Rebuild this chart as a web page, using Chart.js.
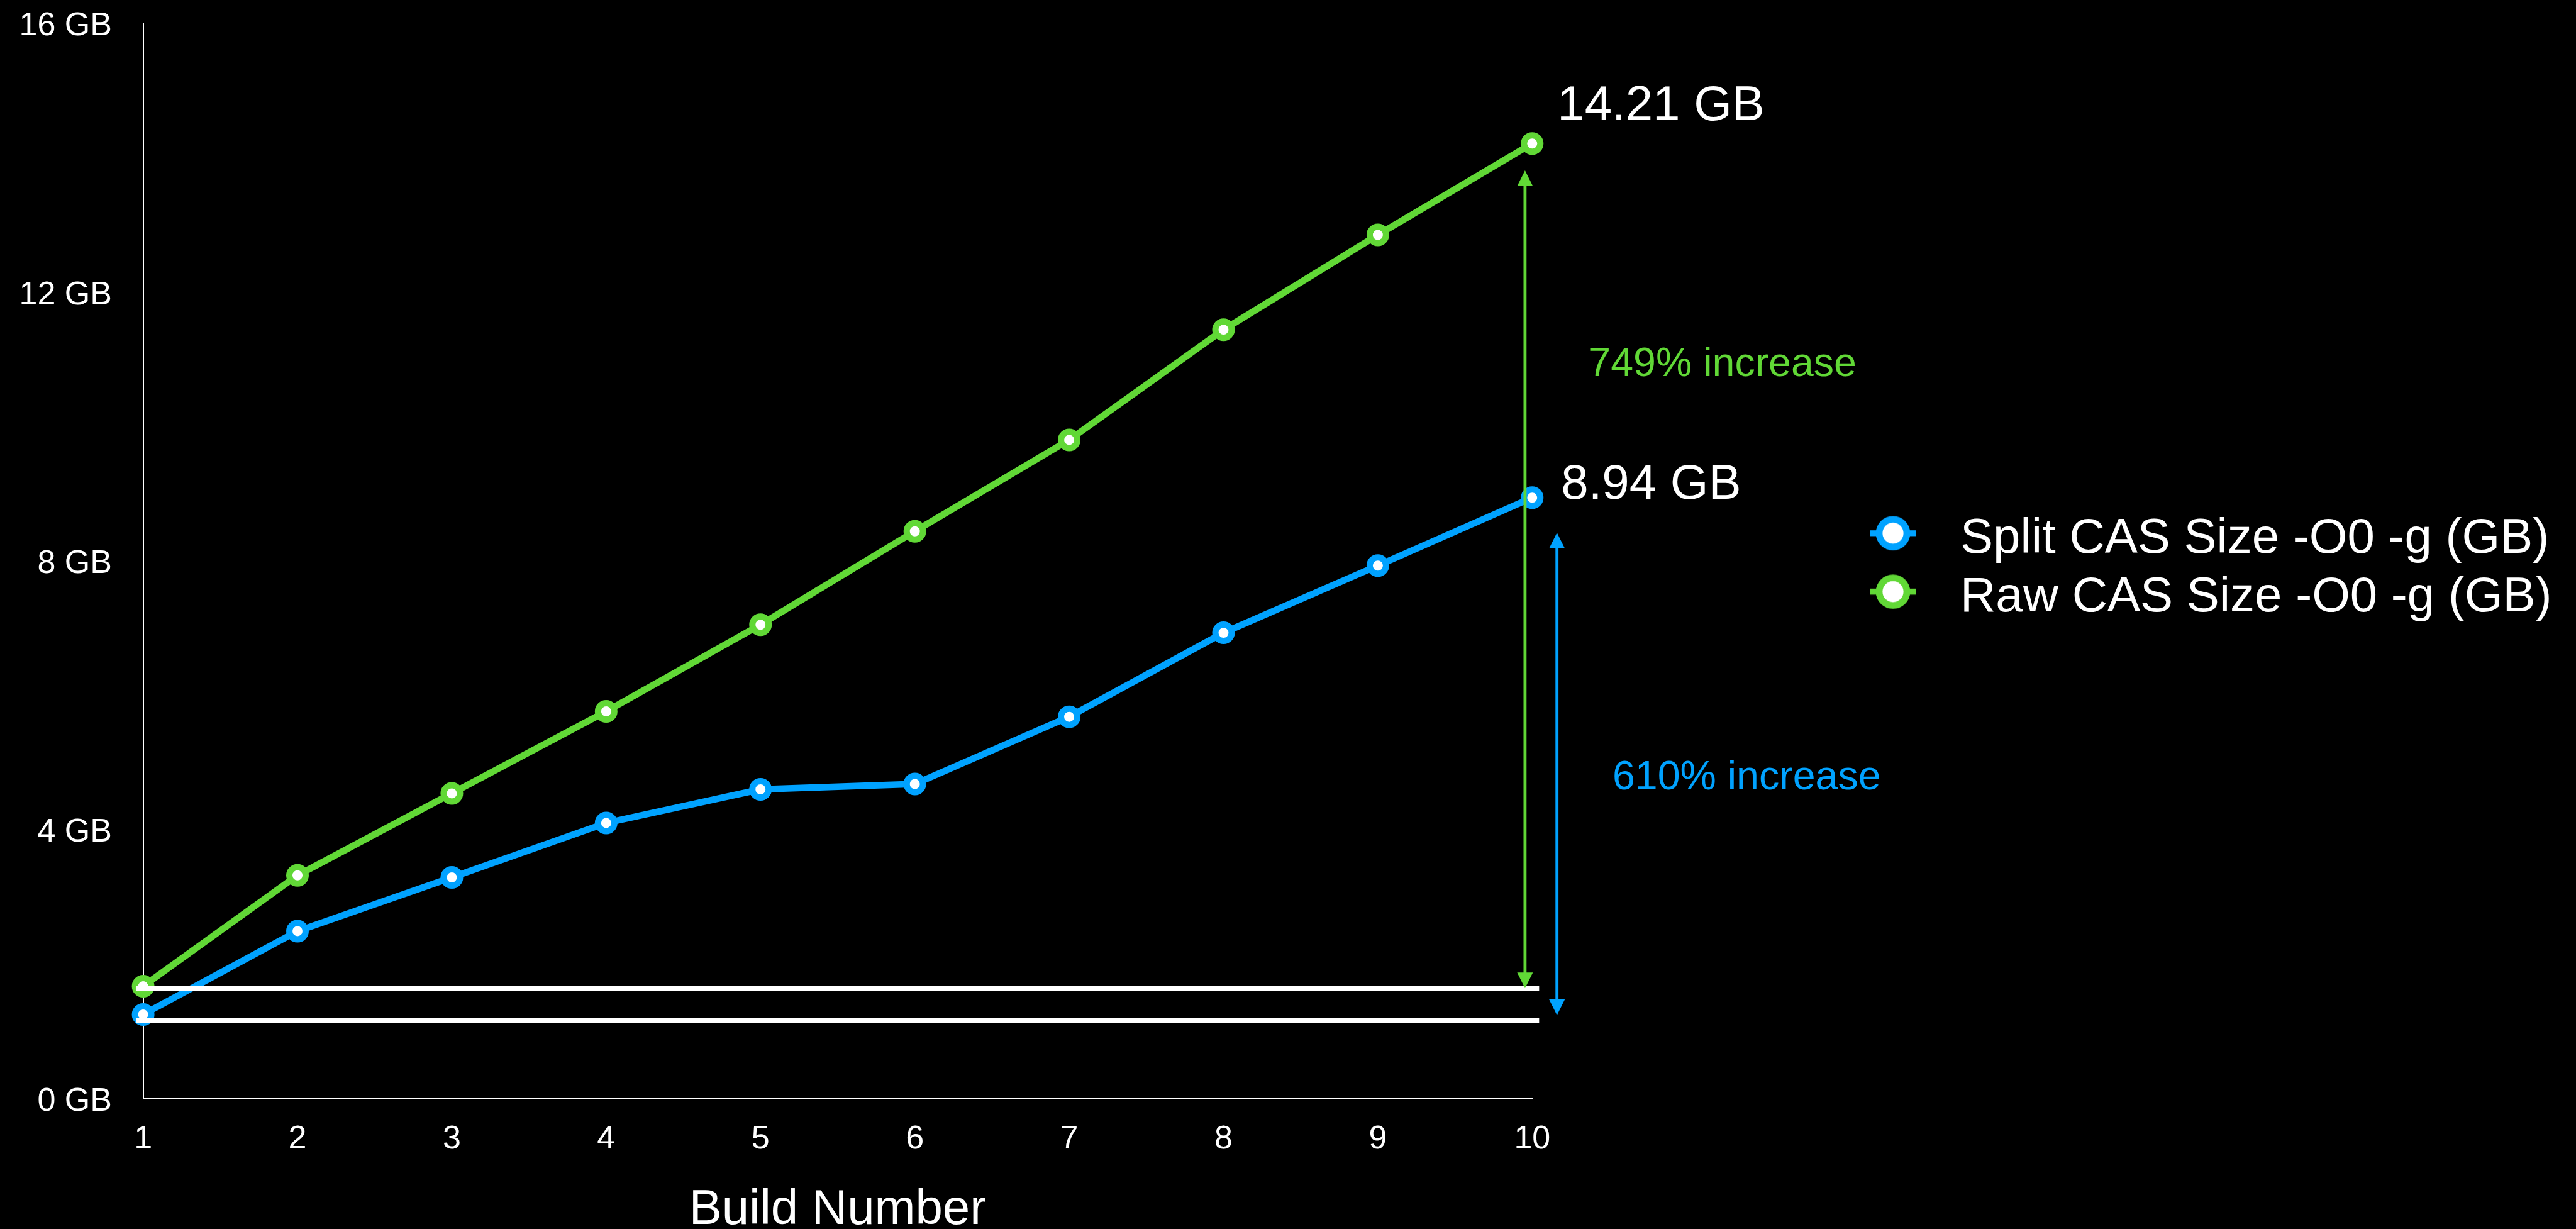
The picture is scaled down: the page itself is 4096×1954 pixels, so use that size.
<!DOCTYPE html>
<html>
<head>
<meta charset="utf-8">
<title>CAS size per build</title>
<script src="https://cdn.jsdelivr.net/npm/chart.js@4.4.1/dist/chart.umd.min.js"></script>
<style>
  html, body { margin: 0; padding: 0; background: #000; }
  canvas { display: block; }
</style>
</head>
<body>
<canvas id="casChart" width="4096" height="1954"></canvas>
<script>
// build numbers on the x axis
const builds = ['1', '2', '3', '4', '5', '6', '7', '8', '9', '10'];
// split CAS size per build (GB)
const splitSizes = [1.25, 2.49, 3.29, 4.10, 4.60, 4.68, 5.68, 6.93, 7.93, 8.94];
// raw CAS size per build (GB)
const rawSizes = [1.67, 3.32, 4.54, 5.76, 7.05, 8.44, 9.80, 11.44, 12.85, 14.21];
const yTicks = [0, 4, 8, 12, 16];
const seriesNames = ['Split CAS Size -O0 -g (GB)', 'Raw CAS Size -O0 -g (GB)'];
const endLabels = ['8.94 GB', '14.21 GB'];
const increaseLabels = ['610% increase', '749% increase'];

const BLUE = '#00A2FF';
const GREEN = '#61D836';
const FONT = '"Liberation Sans", Arial, Helvetica, sans-serif';

// legend marker: short line with a ring in the middle
// (drawn a bit above the image centre so it lines up with the capitals)
function legendMarker(color) {
    const c = document.createElement('canvas');
    c.width = 80;
    c.height = 80;
    const g = c.getContext('2d');
    const cy = 30.5;
    g.strokeStyle = color;
    g.lineWidth = 9.5;
    g.beginPath();
    g.moveTo(3, cy);
    g.lineTo(77, cy);
    g.stroke();
    g.beginPath();
    g.arc(40, cy, 22, 0, Math.PI * 2);
    g.fillStyle = '#fff';
    g.fill();
    g.lineWidth = 10.7;
    g.stroke();
    return c;
}
const markers = [legendMarker(BLUE), legendMarker(GREEN)];

// legend geometry
const legendFont = 78;
const legendPad = 15;
const legendBox = 136;
const legendLeft = 2927;
const plotRight = 2436.3;

const measure = document.createElement('canvas').getContext('2d');
measure.font = legendFont + 'px ' + FONT;
const textW = Math.max(...seriesNames.map(s => measure.measureText(s).width));
const legendWidth = legendPad + legendBox + legendFont / 2 + textW + 10;
const padRight = 4096 - legendLeft - legendWidth;

function drawArrow(ctx, x, yTop, yBottom, color) {
    const head = 25, half = 12.5;
    ctx.save();
    ctx.strokeStyle = color;
    ctx.fillStyle = color;
    ctx.lineWidth = 4.8;
    ctx.beginPath();
    ctx.moveTo(x, yTop + head - 2);
    ctx.lineTo(x, yBottom - head + 2);
    ctx.stroke();
    ctx.beginPath();
    ctx.moveTo(x, yTop);
    ctx.lineTo(x - half, yTop + head);
    ctx.lineTo(x + half, yTop + head);
    ctx.closePath();
    ctx.fill();
    ctx.beginPath();
    ctx.moveTo(x, yBottom);
    ctx.lineTo(x - half, yBottom - head);
    ctx.lineTo(x + half, yBottom - head);
    ctx.closePath();
    ctx.fill();
    ctx.restore();
}

// base lines, arrows and texts on the right side
const annotations = {
    id: 'annotations',
    afterDatasetsDraw(chart) {
        const { ctx, scales: { x, y } } = chart;
        const x1 = x.getPixelForValue(0);
        const x10 = x.getPixelForValue(builds.length - 1);

        // white base lines at the first build
        ctx.save();
        ctx.fillStyle = '#fff';
        [1.64, 1.16].forEach(v => {
            const py = y.getPixelForValue(v);
            ctx.fillRect(x1 - 11, py - 3.8, x10 - x1 + 22, 7.6);
        });
        ctx.restore();

        // increase arrows
        drawArrow(ctx, x10 - 11.4, y.getPixelForValue(13.81), y.getPixelForValue(1.64), GREEN);
        drawArrow(ctx, x10 + 39.4, y.getPixelForValue(8.42), y.getPixelForValue(1.24), BLUE);

        ctx.save();
        ctx.textAlign = 'left';
        ctx.textBaseline = 'middle';
        ctx.fillStyle = '#fff';
        ctx.font = '78px ' + FONT;
        ctx.fillText(endLabels[1], x10 + 40, y.getPixelForValue(rawSizes[9]) - 58.6);
        ctx.fillText(endLabels[0], x10 + 46, y.getPixelForValue(splitSizes[9]) - 19.8);

        ctx.font = '64.5px ' + FONT;
        ctx.fillStyle = GREEN;
        ctx.fillText(increaseLabels[1], x10 + 89, y.getPixelForValue(10.92));
        ctx.fillStyle = BLUE;
        ctx.fillText(increaseLabels[0], x10 + 127.6, y.getPixelForValue(4.77));
        ctx.restore();
    }
};

const ctx = document.getElementById('casChart').getContext('2d');

const chart = new Chart(ctx, {
    type: 'line',
    data: {
        labels: builds,
        datasets: [
            {
                label: seriesNames[0],
                data: splitSizes,
                borderColor: BLUE,
                borderWidth: 10.5,
                pointRadius: 13,
                pointBorderWidth: 10,
                pointBackgroundColor: '#fff',
                pointBorderColor: BLUE,
                clip: false
            },
            {
                label: seriesNames[1],
                data: rawSizes,
                borderColor: GREEN,
                borderWidth: 10.5,
                pointRadius: 13,
                pointBorderWidth: 10,
                pointBackgroundColor: '#fff',
                pointBorderColor: GREEN,
                clip: false
            }
        ]
    },
    options: {
        responsive: false,
        animation: false,
        devicePixelRatio: 1,
        layout: { padding: { top: 37, right: padRight, bottom: 0, left: 0 } },
        scales: {
            x: {
                grid: { display: false, drawTicks: false },
                border: { display: true, color: '#fff', width: 2 },
                ticks: { color: '#fff', font: { family: FONT, size: 52 }, padding: 34, maxRotation: 0 },
                title: {
                    display: true,
                    text: 'Build Number',
                    color: '#fff',
                    font: { family: FONT, size: 78, lineHeight: 0.744 },
                    padding: 0
                },
                afterFit(scale) { scale.height = 207.5; }
            },
            y: {
                min: 0,
                max: 16,
                // tick marks are hidden, their length only pushes the labels left
                grid: { display: false, drawTicks: true, tickLength: 44.6 },
                border: { display: true, color: '#fff', width: 2 },
                afterBuildTicks(scale) { scale.ticks = yTicks.map(v => ({ value: v })); },
                ticks: {
                    color: '#fff',
                    font: { family: FONT, size: 52 },
                    padding: 5,
                    labelOffset: 5,
                    callback: v => v + ' GB'
                },
                afterFit(scale) { scale.width = 227.6; }
            },
            gap: {
                type: 'linear',
                axis: 'y',
                position: 'right',
                grid: { display: false, drawTicks: false },
                border: { display: false },
                ticks: { display: false },
                afterFit(scale) { scale.width = legendLeft - plotRight; }
            }
        },
        plugins: {
            legend: {
                position: 'right',
                fullSize: false,
                maxWidth: 2000,
                title: { display: true, text: '', font: { size: 24, lineHeight: 1 }, padding: 0 },
                labels: {
                    usePointStyle: true,
                    pointStyleWidth: legendBox,
                    padding: legendPad,
                    color: '#fff',
                    font: { family: FONT, size: legendFont },
                    generateLabels(c) {
                        const items = Chart.defaults.plugins.legend.labels.generateLabels(c);
                        items.forEach((it, i) => { it.pointStyle = markers[i]; });
                        return items;
                    }
                }
            },
            tooltip: { enabled: false }
        }
    },
    plugins: [annotations]
});
</script>
</body>
</html>
